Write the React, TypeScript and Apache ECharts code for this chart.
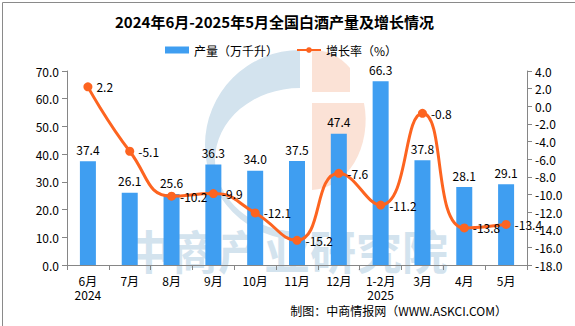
import React, { useEffect, useRef } from "react";
import * as echarts from "echarts";

const categories = ["6月\n2024", "7月", "8月", "9月", "10月", "11月", "12月", "1-2月\n2025", "3月", "4月", "5月"];
const production = [37.4, 26.1, 25.6, 36.3, 34.0, 37.5, 47.4, 66.3, 37.8, 28.1, 29.1];
const growth = [2.2, -5.1, -10.2, -9.9, -12.1, -15.2, -7.6, -11.2, -0.8, -13.8, -13.4];
const seriesNames = ["产量（万千升）", "增长率（%）"];
const titleText = "2024年6月-2025年5月全国白酒产量及增长情况";
const sourceText = "制图：中商情报网（WWW.ASKCI.COM）";
const watermarkText = "中商产业研究院";

const FONT = '"Noto Sans CJK SC", "Noto Sans", sans-serif';

echarts.graphic.registerShape(
  "logoC",
  echarts.graphic.extendPath("M 300 50 A 95 95 0 0 0 300 240 L 300 232 A 85 72 0 0 1 300 88 Z", {})
);
echarts.graphic.registerShape(
  "logoTop",
  echarts.graphic.extendPath("M 312 50 A 55 70 0 0 1 350 68 L 350 92 L 312 92 Z", {})
);
echarts.graphic.registerShape(
  "logoBottom",
  echarts.graphic.extendPath("M 312 103 L 364 103 A 55 70 0 0 1 312 190 Z", {})
);

export default function App() {
  const ref = useRef<HTMLDivElement>(null);
  useEffect(() => {
    if (!ref.current) return;
    const chart = echarts.init(ref.current, null, { renderer: "svg" });
    const fmt = (v: number) => Number(v).toFixed(1);
    chart.setOption({
      animation: false,
      backgroundColor: "#fff",
      textStyle: { fontFamily: FONT },
      title: {
        text: titleText,
        left: 110,
        top: 9,
        textStyle: { fontSize: 15, fontWeight: "bold", color: "#000", fontFamily: FONT },
      },
      legend: {
        top: 39,
        left: 160,
        itemGap: 18,
        itemWidth: 24,
        itemHeight: 7,
        textStyle: { fontSize: 12, color: "#000", fontFamily: FONT },
        data: [
          { name: seriesNames[0], icon: "rect" },
          { name: seriesNames[1] },
        ],
      },
      grid: { left: 67, right: 48, top: 71, bottom: 61 },
      xAxis: {
        type: "category",
        data: categories,
        axisLine: { lineStyle: { color: "#868686" } },
        axisTick: { show: true, alignWithLabel: false, lineStyle: { color: "#868686" } },
        axisLabel: { color: "#000", fontSize: 12, margin: 8, lineHeight: 14, interval: 0 },
      },
      yAxis: [
        {
          type: "value",
          min: 0,
          max: 70,
          interval: 10,
          splitLine: { show: false },
          axisLine: { show: true, lineStyle: { color: "#868686" } },
          axisTick: { show: true, lineStyle: { color: "#868686" } },
          axisLabel: { color: "#000", fontSize: 12, formatter: fmt, margin: 8 },
        },
        {
          type: "value",
          min: -18,
          max: 4,
          interval: 2,
          position: "right",
          splitLine: { show: false },
          axisLine: { show: true, lineStyle: { color: "#868686" } },
          axisTick: { show: true, lineStyle: { color: "#868686" } },
          axisLabel: { color: "#000", fontSize: 12, formatter: fmt, margin: 8 },
        },
      ],
      graphic: {
        elements: [
          {
            type: "rect",
            left: 0,
            top: 0,
            shape: { x: 0.5, y: 0.5, width: 574, height: 325 },
            style: { fill: "none", stroke: "#8a8a8a", lineWidth: 1 },
            z: 0,
            silent: true,
          },
          { type: "logoC", x: 0, y: 0, style: { fill: "#d3e3ee" }, z: 0, silent: true },
          { type: "logoTop", x: 0, y: 0, style: { fill: "#fbe2d6" }, z: 0, silent: true },
          { type: "logoBottom", x: 0, y: 0, style: { fill: "#fbe2d6" }, z: 0, silent: true },
          {
            type: "text",
            x: 287,
            y: 249,
            style: {
              text: watermarkText,
              fontSize: 46,
              fontWeight: "bold",
              fontFamily: FONT,
              fill: "#d3e3ee",
              align: "center",
              verticalAlign: "middle",
            },
            z: 0,
            silent: true,
          },
          {
            type: "text",
            right: 68,
            top: 304,
            style: { text: sourceText, fontSize: 12, fontFamily: FONT, fill: "#000" },
            z: 5,
          },
        ],
      },
      series: [
        {
          name: seriesNames[0],
          type: "bar",
          data: production,
          barWidth: 16,
          itemStyle: { color: "#3f9ef1" },
          z: 2,
          label: { show: true, position: "top", distance: 6, color: "#000", fontSize: 12, formatter: (p: any) => fmt(p.value) },
        },
        {
          name: seriesNames[1],
          type: "line",
          yAxisIndex: 1,
          data: growth,
          smooth: true,
          symbol: "circle",
          symbolSize: 9,
          itemStyle: { color: "#fd6420" },
          lineStyle: { color: "#fd6420", width: 3 },
          z: 4,
          label: { show: true, position: "right", distance: 4, color: "#000", fontSize: 12, formatter: (p: any) => fmt(p.value) },
        },
      ],
    });
    return () => chart.dispose();
  }, []);
  return <div ref={ref} style={{ position: "fixed", left: 0, top: 0, width: 575, height: 326 }} />;
}
